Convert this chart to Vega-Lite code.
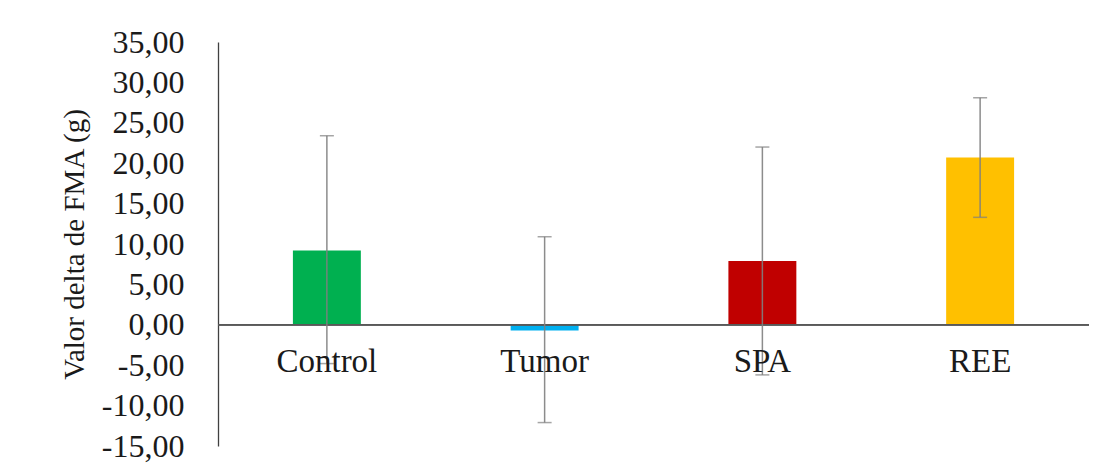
{
  "$schema": "https://vega.github.io/schema/vega-lite/v6.json",
  "width": 871,
  "height": 404,
  "autosize": {"type": "none"},
  "padding": {"left": 218, "top": 42, "right": 17, "bottom": 21},
  "background": "white",
  "config": {"view": {"stroke": null}, "font": "Liberation Serif"},
  "data": {
    "values": [
      {"group": "Control", "mean": 9.2, "lo": -4.8, "hi": 23.4},
      {"group": "Tumor", "mean": -0.7, "lo": -12.1, "hi": 10.9},
      {"group": "SPA", "mean": 7.9, "lo": -6.2, "hi": 22.0},
      {"group": "REE", "mean": 20.7, "lo": 13.3, "hi": 28.1}
    ]
  },
  "encoding": {
    "x": {
      "field": "group",
      "type": "nominal",
      "sort": ["Control", "Tumor", "SPA", "REE"],
      "scale": {"paddingInner": 0.688, "paddingOuter": 0.344},
      "axis": null
    }
  },
  "layer": [
    {
      "mark": {"type": "bar"},
      "encoding": {
        "y": {
          "field": "mean",
          "type": "quantitative",
          "scale": {"domain": [-15, 35], "nice": false, "zero": false},
          "axis": {
            "values": [-15, -10, -5, 0, 5, 10, 15, 20, 25, 30, 35],
            "labelExpr": "replace(replace(format(datum.value, '.2f'), '.', ','), '\u2212', '-')",
            "grid": false,
            "ticks": false,
            "domainColor": "#404040",
            "domainWidth": 1.3,
            "labelFont": "Liberation Serif",
            "labelFontSize": 32,
            "labelColor": "#1a1a1a",
            "labelPadding": 34,
            "title": "Valor delta de FMA (g)",
            "titleFont": "Liberation Serif",
            "titleFontSize": 29,
            "titleFontWeight": "normal",
            "titleColor": "#1a1a1a",
            "titlePadding": 12
          }
        },
        "color": {
          "field": "group",
          "type": "nominal",
          "scale": {
            "domain": ["Control", "Tumor", "SPA", "REE"],
            "range": ["#00B050", "#00B0F0", "#C00000", "#FFC000"]
          },
          "legend": null
        }
      }
    },
    {
      "mark": {"type": "rule", "color": "#595959", "strokeWidth": 1.5},
      "encoding": {"y": {"datum": 0, "type": "quantitative"}, "x": null}
    },
    {
      "mark": {"type": "rule", "color": "#7f7f7f", "strokeWidth": 1.5, "opacity": 0.9},
      "encoding": {
        "y": {"field": "lo", "type": "quantitative"},
        "y2": {"field": "hi"}
      }
    },
    {
      "mark": {"type": "tick", "color": "#7f7f7f", "size": 14, "thickness": 1.5, "orient": "horizontal"},
      "encoding": {"y": {"field": "lo", "type": "quantitative"}}
    },
    {
      "mark": {"type": "tick", "color": "#7f7f7f", "size": 14, "thickness": 1.5, "orient": "horizontal"},
      "encoding": {"y": {"field": "hi", "type": "quantitative"}}
    },
    {
      "mark": {"type": "text", "font": "Liberation Serif", "fontSize": 33, "color": "#1a1a1a", "baseline": "middle", "dy": 37},
      "encoding": {
        "y": {"datum": 0, "type": "quantitative"},
        "text": {"field": "group"}
      }
    }
  ]
}
